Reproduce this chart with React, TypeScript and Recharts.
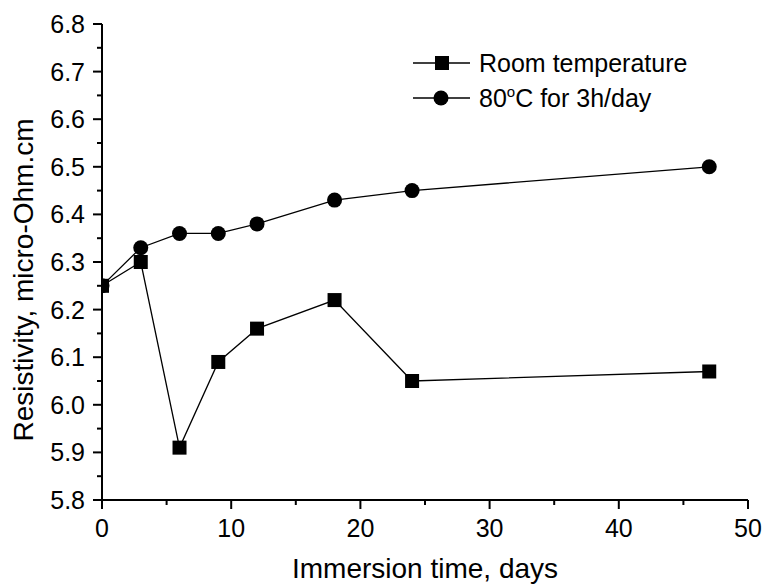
import { Line, LineChart, XAxis, YAxis } from "recharts";

const days = [0, 3, 6, 9, 12, 18, 24, 47];
const roomTemp = [6.25, 6.3, 5.91, 6.09, 6.16, 6.22, 6.05, 6.07];
const heated = [6.25, 6.33, 6.36, 6.36, 6.38, 6.43, 6.45, 6.5];

const xTicks = [0, 5, 10, 15, 20, 25, 30, 35, 40, 45, 50];
const xLabels = [0, 10, 20, 30, 40, 50];
const yTicks = [5.8, 5.85, 5.9, 5.95, 6.0, 6.05, 6.1, 6.15, 6.2, 6.25, 6.3, 6.35, 6.4, 6.45, 6.5, 6.55, 6.6, 6.65, 6.7, 6.75, 6.8];

const data = days.map((d, i) => ({ day: d, room: roomTemp[i], hot: heated[i] }));

const FONT = "'Liberation Sans', Arial, sans-serif";

function XTick(props: any) {
  const { x, y, payload } = props;
  const major = xLabels.includes(payload.value);
  return (
    <g>
      <line x1={x} x2={x} y1={y} y2={y + (major ? 9 : 5)} stroke="#000" strokeWidth={2} />
      {major && (
        <text x={x} y={y + 37} textAnchor="middle" fontSize={25} fontFamily={FONT} fill="#000">
          {payload.value}
        </text>
      )}
    </g>
  );
}

function YTick(props: any) {
  const { x, y, payload } = props;
  const v = payload.value;
  const major = Math.abs(v * 10 - Math.round(v * 10)) < 1e-6;
  return (
    <g>
      <line x1={x} x2={x - (major ? 9 : 5)} y1={y} y2={y} stroke="#000" strokeWidth={2} />
      {major && (
        <text x={x - 17} y={y + 9} textAnchor="end" fontSize={25} fontFamily={FONT} fill="#000">
          {v.toFixed(1)}
        </text>
      )}
    </g>
  );
}

function SquareDot(props: any) {
  const { cx, cy } = props;
  return <rect x={cx - 7} y={cy - 7} width={14} height={14} fill="#000" />;
}

function CircleDot(props: any) {
  const { cx, cy } = props;
  return <circle cx={cx} cy={cy} r={7.5} fill="#000" />;
}

const axisStroke = { stroke: "#000", strokeWidth: 2 };

export default function App() {
  return (
    <div style={{ position: "absolute", left: 0, top: 0, width: 765, height: 586, background: "#fff" }}>
      <LineChart width={765} height={586} data={data} margin={{ top: 24, right: 17, bottom: 0, left: 0 }}>
        <XAxis
          dataKey="day"
          type="number"
          domain={[0, 50]}
          ticks={xTicks}
          interval={0}
          tickSize={0}
          tickMargin={0}
          tickLine={false}
          tick={<XTick />}
          height={86}
          axisLine={axisStroke}
          allowDataOverflow
        />
        <XAxis xAxisId="top" orientation="top" type="number" domain={[0, 50]} height={0} tick={false} tickLine={false} axisLine={axisStroke} />
        <YAxis
          type="number"
          domain={[5.8, 6.8]}
          ticks={yTicks}
          interval={0}
          tickSize={0}
          tickMargin={0}
          tickLine={false}
          tick={<YTick />}
          width={102}
          axisLine={axisStroke}
          allowDataOverflow
        />
        <YAxis yAxisId="right" orientation="right" type="number" domain={[5.8, 6.8]} width={0} tick={false} tickLine={false} axisLine={axisStroke} />
        <Line dataKey="room" stroke="#000" strokeWidth={1.3} dot={<SquareDot />} isAnimationActive={false} />
        <Line dataKey="hot" stroke="#000" strokeWidth={1.3} dot={<CircleDot />} isAnimationActive={false} />
      </LineChart>
      <svg width={765} height={586} style={{ position: "absolute", left: 0, top: 0, pointerEvents: "none" }}>
        <text x={425} y={578} textAnchor="middle" fontSize={28} fontFamily={FONT} fill="#000">
          Immersion time, days
        </text>
        <text x={0} y={0} transform="translate(33,280) rotate(-90)" textAnchor="middle" fontSize={28} fontFamily={FONT} fill="#000">
          Resistivity, micro-Ohm.cm
        </text>
        <g fontSize={25} fontFamily={FONT} fill="#000">
          <line x1={413} x2={470} y1={63} y2={63} stroke="#000" strokeWidth={1.3} />
          <rect x={435} y={56} width={14} height={14} fill="#000" />
          <text x={479} y={72}>Room temperature</text>
          <line x1={413} x2={470} y1={98} y2={98} stroke="#000" strokeWidth={1.3} />
          <circle cx={441} cy={98} r={7.5} fill="#000" />
          <text x={479} y={107}>
            80<tspan dy={-10} fontSize={15}>o</tspan><tspan dy={10}>C for 3h/day</tspan>
          </text>
        </g>
      </svg>
    </div>
  );
}
